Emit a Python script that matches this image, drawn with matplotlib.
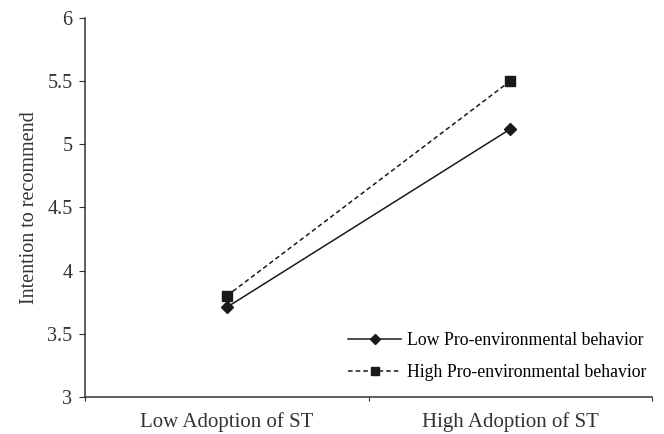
import numpy as np
import matplotlib.pyplot as plt

plt.rcParams['font.family'] = ['Liberation Serif', 'DejaVu Serif']

# data
categories = ['Low Adoption of ST', 'High Adoption of ST']
low_pro = [3.71, 5.12]
high_pro = [3.80, 5.50]

fig = plt.figure(figsize=(6.64, 4.34), dpi=100)
ax = fig.add_axes([0.128, 0.085, 0.854, 0.874])

x = np.arange(len(categories)) + 0.5
ax.plot(x, low_pro, '-', color='#1a1a1a', lw=1.1, marker='D', ms=6,
        label='Low Pro-environmental behavior')
ax.plot(x, high_pro, '--', color='#1a1a1a', lw=1.1, marker='s', ms=7.5,
        dashes=(3, 2), label='High Pro-environmental behavior')

ax.set_xlim(0, 2)
ax.set_ylim(3, 6)
ax.set_yticks(np.arange(3, 6.01, 0.5))
ax.set_yticklabels(['3', '3.5', '4', '4.5', '5', '5.5', '6'])
ax.set_xticks([0, 1, 2])
ax.set_xticklabels([])
ax.set_xticks(x, minor=True)
ax.set_xticklabels(categories, minor=True)
ax.tick_params(axis='x', which='minor', length=0, pad=11, labelsize=15, colors='#333333')
ax.tick_params(axis='x', which='major', length=3, direction='out', colors='#333333')
ax.tick_params(axis='y', length=4, direction='out', labelsize=14.5, colors='#333333', pad=5)

for s in ['top', 'right']:
    ax.spines[s].set_visible(False)
for s in ['left', 'bottom']:
    ax.spines[s].set_color('#333333')
    ax.spines[s].set_linewidth(1.1)

ax.set_ylabel('Intention to recommend', fontsize=14.5, color='#333333', labelpad=6)

ax.legend(loc='lower right', frameon=False, fontsize=12.8, handlelength=3.0,
          labelspacing=0.85, handletextpad=0.3, borderaxespad=0.6,
          markerscale=0.8, bbox_to_anchor=(1.021, -0.005))

fig.savefig('out.png', dpi=100)
